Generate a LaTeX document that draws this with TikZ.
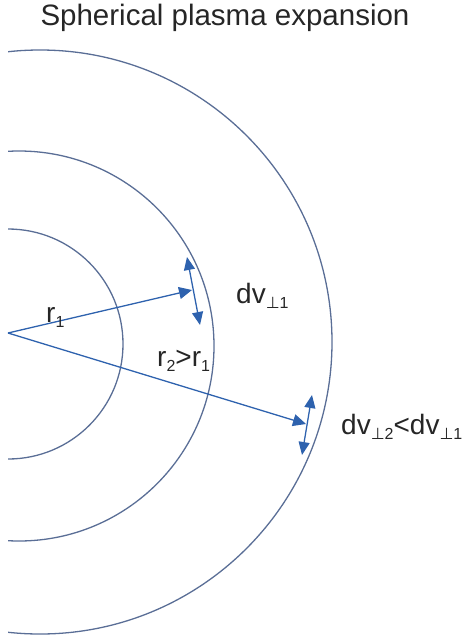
\documentclass[tikz,border=0pt]{standalone}
\usepackage{fontspec}
\setmainfont{Liberation Sans}
\newfontfamily\perpfont{DejaVu Sans}
\usetikzlibrary{arrows.meta}
\definecolor{ringblue}{HTML}{5A6E96}
\definecolor{arrowblue}{HTML}{2E62AE}
\newcommand{\lowidx}[1]{\raisebox{-0.4ex}{\fontsize{16}{16}\selectfont #1}}

\begin{document}
\begin{tikzpicture}[x=1pt, y=-1pt,
    ring/.style={draw=ringblue, line width=1.3pt},
    vec/.style={-{Triangle[length=13pt, width=12pt]}, line width=1.3pt, draw=arrowblue},
    spread/.style={{Triangle[length=13pt, width=11pt]}-{Triangle[length=13pt, width=11pt]},
                   line width=1.3pt, draw=arrowblue},
    lbl/.style={font=\fontsize{28}{32}\selectfont, text=black!85, inner sep=0pt, anchor=base west},
]
    \useasboundingbox (0,0) rectangle (465,641);

    % Title
    \node[lbl, anchor=base, font=\fontsize{29.5}{34}\selectfont] (title) at (225,25) {Spherical plasma expansion};

    % Shells
    \begin{scope}
        \clip (8,0) rectangle (465,641);
        \draw[ring] (8,344) circle[radius=115];
        \draw[ring] (19,346) circle[radius=195];
        \draw[ring] (40,342) circle[radius=292];
    \end{scope}

    % Radii
    \coordinate (O) at (8,333);
    \coordinate (t1) at (192,290);
    \coordinate (t2) at (306,424);
    \draw[vec] (O) -- (t1);
    \draw[vec] (O) -- (t2);

    % Transverse spreads
    \coordinate (s1a) at (187,257);
    \coordinate (s1b) at (200,325);
    \coordinate (s2a) at (312,395);
    \coordinate (s2b) at (302,455);
    \draw[spread] (s1a) -- (s1b);
    \draw[spread] (s2a) -- (s2b);

    % Labels
    \node[lbl] (r1) at (46,322) {r\lowidx{1}};
    \node[lbl] (r2) at (157,366) {r\lowidx{2}>r\lowidx{1}};
    \node[lbl] (dv1) at (236,303) {dv\lowidx{{\perpfont ⊥}1}};
    \node[lbl] (dv2) at (341,434) {dv\lowidx{{\perpfont ⊥}2}<dv\lowidx{{\perpfont ⊥}1}};
\end{tikzpicture}
\end{document}
